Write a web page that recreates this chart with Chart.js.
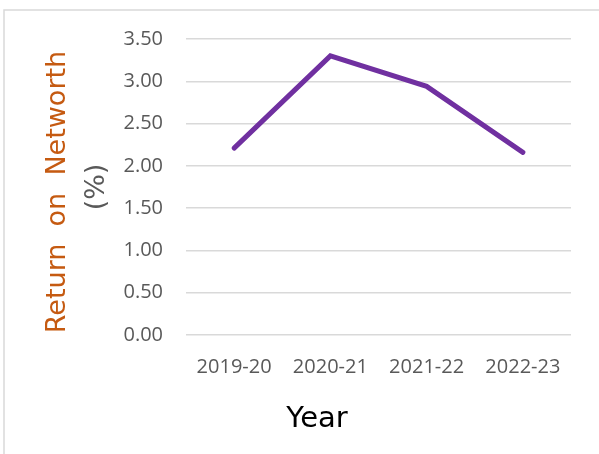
<!DOCTYPE html>
<html>
<head>
<meta charset="utf-8">
<title>Return on Networth</title>
<script src="https://cdn.jsdelivr.net/npm/chart.js@4"></script>
<style>
  html, body { margin: 0; padding: 0; background: #fff; }
  #wrap { width: 599px; height: 454px; }
</style>
</head>
<body>
<div id="wrap"><canvas id="ronwChart"></canvas></div>
<script>
// Return on networth by financial year
const years = ['2019-20', '2020-21', '2021-22', '2022-23'];
const ronwValues = [2.21, 3.30, 2.94, 2.16];
const yTicks = [0, 0.5, 1, 1.5, 2, 2.5, 3, 3.5];

// Frame and axis titles drawn straight on the canvas
const titlesPlugin = {
  id: 'titles',
  afterDraw(chart) {
    const { ctx, chartArea } = chart;
    ctx.save();
    ctx.strokeStyle = '#d9d9d9';
    ctx.lineWidth = 1.5;
    ctx.strokeRect(4, 10, 800, 800);

    ctx.textAlign = 'center';
    ctx.textBaseline = 'middle';
    ctx.font = '27px "DejaVu Sans"';

    ctx.save();
    ctx.translate(58, chartArea.top + 153);
    ctx.rotate(-Math.PI / 2);
    ctx.fillStyle = '#c55a11';
    ctx.fillText('Return  on  Networth', 0, 0);
    ctx.restore();

    ctx.save();
    ctx.translate(97, chartArea.top + 148);
    ctx.rotate(-Math.PI / 2);
    ctx.fillStyle = '#595959';
    ctx.fillText('(%)', 0, 0);
    ctx.restore();

    ctx.fillStyle = '#000';
    ctx.font = '29px "DejaVu Sans"';
    ctx.fillText('Year', 317, chartArea.bottom + 84);
    ctx.restore();
  }
};

new Chart(document.getElementById('ronwChart'), {
  type: 'line',
  data: {
    labels: years,
    datasets: [{
      label: 'Return on Networth (%)',
      data: ronwValues,
      borderColor: '#7030a0',
      borderWidth: 5,
      borderCapStyle: 'round',
      borderJoinStyle: 'miter',
      pointRadius: 0,
      tension: 0,
      fill: false
    }]
  },
  options: {
    responsive: true,
    maintainAspectRatio: false,
    animation: false,
    layout: { padding: { top: 39, right: 28, left: 0, bottom: 0 } },
    plugins: {
      legend: { display: false },
      tooltip: { enabled: false }
    },
    scales: {
      x: {
        offset: true,
        grid: { display: false, drawTicks: false },
        border: { display: false },
        ticks: {
          padding: 20,
          color: '#595959',
          font: { family: '"Open Sans"', size: 20 }
        },
        afterFit(scale) { scale.height = 119; }
      },
      y: {
        min: 0,
        max: 3.5,
        afterBuildTicks(scale) { scale.ticks = yTicks.map(v => ({ value: v })); },
        grid: { color: '#d9d9d9', lineWidth: 1.5, drawTicks: false },
        border: { display: false },
        ticks: {
          padding: 23,
          color: '#595959',
          font: { family: '"Open Sans"', size: 20 },
          callback: v => v.toFixed(2)
        },
        afterFit(scale) { scale.width = 186; }
      }
    }
  },
  plugins: [titlesPlugin]
});
</script>
</body>
</html>
